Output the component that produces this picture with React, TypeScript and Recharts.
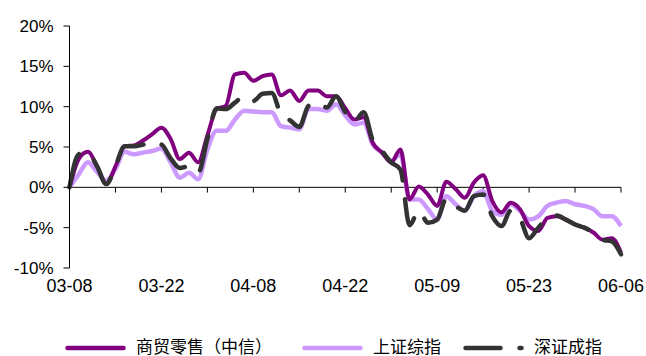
import { LineChart, Line, XAxis, YAxis, ReferenceLine, Legend } from 'recharts'

// trading days, one label every 10 sessions
const dates = [
  '03-08',
  '03-11', '03-12', '03-13', '03-14', '03-15', '03-18', '03-19', '03-20', '03-21', '03-22',
  '03-25', '03-26', '03-27', '03-28', '03-29', '04-01', '04-02', '04-03', '04-07', '04-08',
  '04-09', '04-10', '04-11', '04-12', '04-15', '04-16', '04-17', '04-18', '04-19', '04-22',
  '04-23', '04-24', '04-25', '04-26', '04-29', '04-30', '05-06', '05-07', '05-08', '05-09',
  '05-10', '05-13', '05-14', '05-15', '05-16', '05-17', '05-20', '05-21', '05-22', '05-23',
  '05-24', '05-27', '05-28', '05-29', '05-30', '05-31', '06-03', '06-04', '06-05', '06-06',
]

const labelDates = ['03-08', '03-22', '04-08', '04-22', '05-09', '05-23', '06-06']
const yTicks = [-10, -5, 0, 5, 10, 15, 20]

// 商贸零售（中信）
const retail = [
  0, 3.5, 4.4, 2.6, 0.4, 2.6, 5.1, 5.2, 5.8, 6.6, 7.4,
  6.0, 3.5, 4.3, 3.1, 6.4, 9.7, 10.1, 14.0, 14.2, 13.2,
  13.8, 14.0, 11.4, 12.0, 10.7, 12.0, 12.0, 11.3, 11.3, 9.8,
  8.4, 8.7, 5.5, 4.3, 3.1, 4.7, -1.5, 0.1, -0.9, -2.3,
  0.7, -0.2, -1.3, 0.6, 1.5, -1.7, -3.1, -1.9, -2.7, -4.8,
  -5.4, -3.8, -3.6, -4.0, -4.6, -5.0, -5.6, -6.5, -6.3, -8.1,
]

// 上证综指
const shIndex = [
  0, 1.6, 3.1, 1.9, 0.8, 2.3, 4.4, 4.1, 4.3, 4.5, 4.8,
  3.1, 1.2, 1.8, 1.0, 4.7, 7.0, 7.0, 8.4, 9.5, 9.4,
  9.3, 9.3, 7.6, 7.4, 7.2, 9.7, 9.7, 9.5, 10.3, 8.9,
  7.8, 8.0, 5.3, 4.3, 3.3, 4.1, -1.5, -1.5, -2.7, -4.0,
  -1.1, -2.1, -2.9, -1.1, -0.5, -2.9, -3.4, -2.1, -2.9, -4.0,
  -3.6, -2.3, -1.9, -1.7, -2.1, -2.3, -2.7, -3.6, -3.6, -4.8,
]

// 深证成指
const szIndex = [
  0, 4.1, 4.3, 2.6, 0.4, 2.6, 5.1, 5.1, 5.3, 5.6, 5.3,
  3.6, 2.4, 2.6, 1.8, 6.0, 9.8, 9.7, 10.5, 11.3, 10.7,
  11.6, 11.7, 9.1, 8.3, 7.5, 10.1, 10.5, 9.9, 11.3, 9.3,
  8.2, 9.3, 5.8, 4.5, 3.1, 2.2, -4.7, -2.9, -4.4, -4.0,
  -1.4, -2.3, -2.9, -1.1, -0.9, -3.6, -4.8, -2.9, -3.8, -6.3,
  -5.0, -3.8, -3.5, -4.0, -4.6, -5.0, -5.6, -6.5, -6.7, -8.3,
]

const data = dates.map((d, i) => ({
  date: d,
  retail: retail[i],
  sh: shIndex[i],
  sz: szIndex[i],
}))

// small tick marks on the zero line, every 5 sessions
const minorTicks = dates.filter((_, i) => i % 5 === 0)

const FONT = '"Liberation Sans", Arial, "Noto Sans CJK SC", sans-serif'
const DASH = '35 19'

const legendItems = [
  { name: '商贸零售（中信）', color: '#800080', dash: undefined, left: 65 },
  { name: '上证综指', color: '#CC99FF', dash: undefined, left: 302 },
  { name: '深证成指', color: '#333333', dash: DASH, left: 463 },
]

function ChartLegend() {
  return (
    <div style={{ position: 'relative', height: 20, width: 646, fontFamily: FONT, fontSize: 17, color: '#000' }}>
      {legendItems.map((it) => (
        <div key={it.name} style={{ position: 'absolute', left: it.left, top: 0, display: 'flex', alignItems: 'center', height: 20 }}>
          <svg width={62} height={8} style={{ display: 'block' }}>
            <line x1={2.5} y1={4} x2={58.5} y2={4} stroke={it.color} strokeWidth={4.5}
              strokeLinecap="round" strokeDasharray={it.dash} />
          </svg>
          <span style={{ marginLeft: 9, lineHeight: '20px', whiteSpace: 'nowrap' }}>{it.name}</span>
        </div>
      ))}
    </div>
  )
}

export default function App() {
  return (
    <div style={{ position: 'absolute', left: 0, top: 0, width: 646, height: 356, background: '#fff' }}>
      <LineChart width={646} height={356} data={data} margin={{ top: 26, right: 25, left: 0, bottom: 38 }}
        style={{ fontFamily: FONT }}>
        <XAxis dataKey="date" ticks={labelDates} interval={0} tickLine={false} axisLine={false}
          height={30} tickMargin={5} tick={{ fontSize: 18, fill: '#000' }} />
        <YAxis domain={[-10, 20]} ticks={yTicks} width={69.5} tickSize={6} tickMargin={10}
          tickFormatter={(v: number) => `${v}%`} axisLine={{ stroke: '#000' }} tickLine={{ stroke: '#000' }}
          tick={{ fontSize: 17, fill: '#000' }} allowDataOverflow />
        <ReferenceLine y={0} stroke="#000" strokeWidth={1} />
        {minorTicks.map((d) => (
          <ReferenceLine key={d} segment={[{ x: d, y: 0 }, { x: d, y: -0.65 }]} stroke="#000" strokeWidth={1} />
        ))}
        <Line type="monotone" dataKey="sh" stroke="#CC99FF" strokeWidth={4.5} dot={false} isAnimationActive={false} />
        <Line type="monotone" dataKey="retail" stroke="#800080" strokeWidth={4} dot={false} isAnimationActive={false} />
        <Line type="monotone" dataKey="sz" stroke="#333333" strokeWidth={4.5} strokeDasharray={DASH}
          strokeLinecap="round" dot={false} isAnimationActive={false} />
        <Legend verticalAlign="bottom" content={() => <ChartLegend />} wrapperStyle={{ bottom: -2, left: 0 }} />
      </LineChart>
    </div>
  )
}
